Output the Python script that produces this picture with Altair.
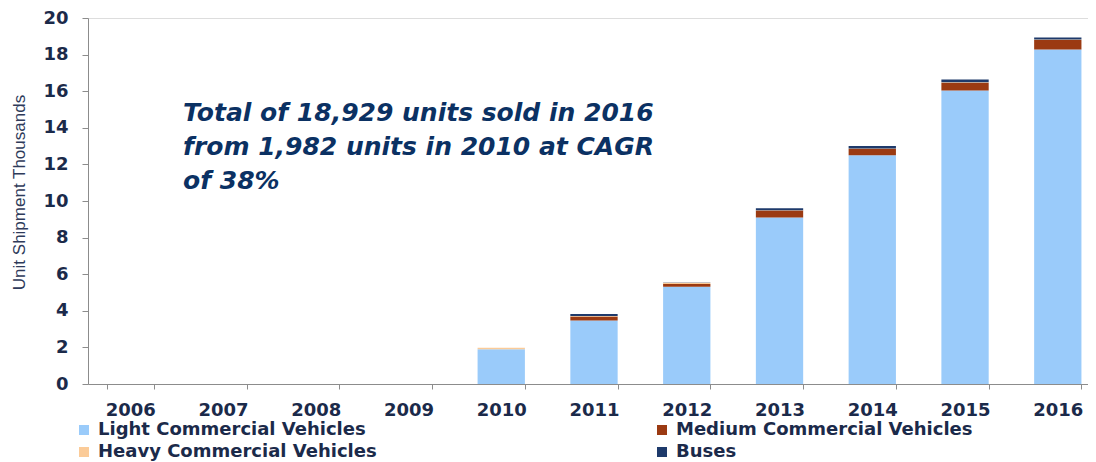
import altair as alt
import pandas as pd

years = ["2006", "2007", "2008", "2009", "2010", "2011", "2012", "2013", "2014", "2015", "2016"]
categories = ["Light Commercial Vehicles", "Medium Commercial Vehicles",
              "Heavy Commercial Vehicles", "Buses"]
light = [0, 0, 0, 0, 1.90, 3.47, 5.31, 9.10, 12.50, 16.04, 18.28]
medium = [0, 0, 0, 0, 0.00, 0.22, 0.15, 0.38, 0.35, 0.42, 0.52]
heavy = [0, 0, 0, 0, 0.08, 0.03, 0.07, 0.02, 0.02, 0.03, 0.03]
buses = [0, 0, 0, 0, 0.00, 0.10, 0.01, 0.10, 0.13, 0.15, 0.10]
colors = ["#9ACBFA", "#9B3A12", "#FBCB98", "#1E3A6B"]
note_lines = ["Total of 18,929 units sold in 2016",
              "from 1,982 units in 2010 at CAGR",
              "of 38%"]

series = [light, medium, heavy, buses]
rows = []
for ci, (cat, vals) in enumerate(zip(categories, series)):
    for y, v in zip(years, vals):
        rows.append({"year": y, "category": cat, "value": v, "order": ci})
df = pd.DataFrame(rows)

# legend is filled column by column: this order gives rows Light|Medium, Heavy|Buses
legend_order = [categories[0], categories[2], categories[1], categories[3]]
legend_colors = [colors[0], colors[2], colors[1], colors[3]]

navy = "#1B2A4A"
axis_gray = "#8C8C8C"

bars = alt.Chart(df).mark_bar().encode(
    x=alt.X("year:N", sort=years,
            scale=alt.Scale(range=[0, 1012], paddingInner=0.49, paddingOuter=0.2),
            axis=alt.Axis(title=None, labelAngle=0, labelFont="DejaVu Sans",
                          labelFontWeight="bold", labelFontSize=18, labelColor=navy,
                          domainColor=axis_gray, tickColor=axis_gray, tickSize=5,
                          tickBand="extent", labelPadding=12)),
    y=alt.Y("value:Q", stack="zero",
            scale=alt.Scale(domain=[0, 20], nice=False),
            axis=alt.Axis(title="Unit Shipment Thousands", values=list(range(0, 21, 2)),
                          grid=False, labelFont="DejaVu Sans", labelFontWeight="bold",
                          labelFontSize=18, labelColor=navy, domainColor=axis_gray,
                          tickColor=axis_gray, tickSize=6, labelPadding=14,
                          titleFont="Liberation Sans", titleFontSize=17,
                          titleFontWeight="normal", titleColor="#2E3A5A",
                          titleAngle=-90, titleX=-64, titleY=174,
                          titleAlign="center", titleBaseline="alphabetic")),
    color=alt.Color("category:N", scale=alt.Scale(domain=legend_order, range=legend_colors),
                    legend=alt.Legend(title=None, orient="none", legendX=-13, legendY=403,
                                      columns=2, columnPadding=276, rowPadding=4,
                                      symbolType="square", symbolSize=100,
                                      symbolStrokeWidth=0, labelFont="DejaVu Sans",
                                      labelFontWeight="bold", labelFontSize=18,
                                      labelColor=navy, labelOffset=5, labelLimit=400)),
    order=alt.Order("order:Q", sort="ascending"),
)

note = alt.Chart(pd.DataFrame({"k": [0]})).mark_text(
    text=note_lines, align="left", baseline="alphabetic", font="DejaVu Sans",
    fontSize=25, fontWeight="bold", fontStyle="italic", color="#0B3163", lineHeight=34,
).encode(x=alt.value(95), y=alt.value(103))

chart = alt.layer(bars, note).properties(
    width=1000, height=366,
    autosize=alt.AutoSizeParams(type="none"),
    padding={"left": 80, "top": 10, "right": 0, "bottom": 78},
).configure_view(stroke=None).configure(background="white")

chart.save("out.html", embed_options={"renderer": "svg", "actions": False})
